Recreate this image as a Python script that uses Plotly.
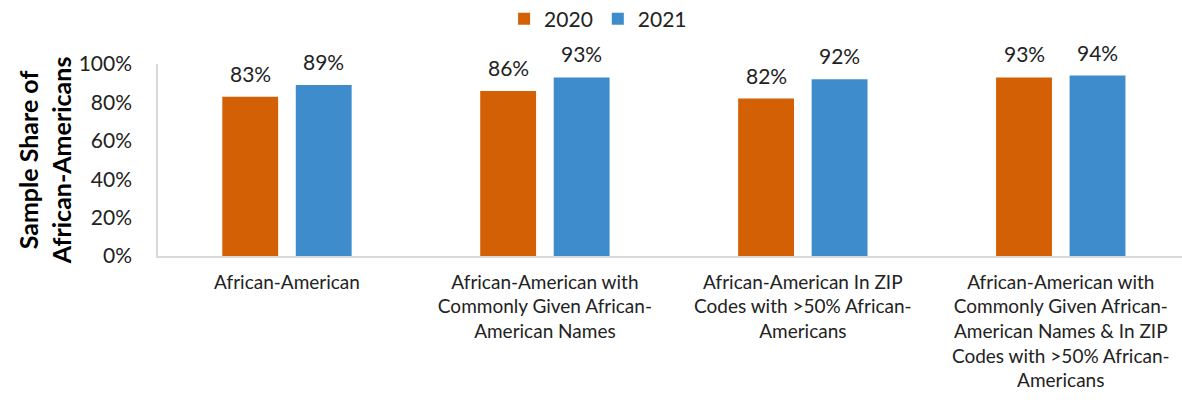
import plotly.graph_objects as go

categories = [
    "African-American",
    "African-American with<br>Commonly Given African-<br>American Names",
    "African-American In ZIP<br>Codes with >50% African-<br>Americans",
    "African-American with<br>Commonly Given African-<br>American Names & In ZIP<br>Codes with >50% African-<br>Americans",
]
values_2020 = [0.83, 0.86, 0.82, 0.93]
values_2021 = [0.89, 0.93, 0.92, 0.94]
series_names = ["2020", "2021"]
colors = ["#D46005", "#3E8CCB"]

FONT = "Lato, 'Open Sans', sans-serif"
xs = list(range(len(categories)))

fig = go.Figure()
for name, vals, col in zip(series_names, [values_2020, values_2021], colors):
    fig.add_trace(go.Bar(x=xs, y=vals, name=name, marker=dict(color=col, line=dict(width=0))))

slot = 0.285
for k, vals in enumerate([values_2020, values_2021]):
    off = (k - 0.5) * slot
    for i, v in enumerate(vals):
        fig.add_annotation(x=i + off, y=v, text=f"{round(v*100)}%", showarrow=False,
                           yanchor="bottom", yshift=9,
                           font=dict(family=FONT, size=21, color="#222"))

fig.update_layout(
    width=1182, height=404,
    margin=dict(l=158, r=0, t=64, b=148),
    paper_bgcolor="white", plot_bgcolor="white",
    barmode="group", bargap=0.43, bargroupgap=0.24,
    font=dict(family=FONT, color="#222"),
    showlegend=True,
    legend=dict(orientation="h", xref="container", yref="container",
                x=0.506, xanchor="center", y=1 - 19/404, yanchor="middle",
                font=dict(size=21, color="#222"), itemwidth=30, traceorder="normal"),
    xaxis=dict(tickmode="array", tickvals=xs, ticktext=categories, automargin=False,
               range=[-0.5, 3.47], showline=True, linecolor="#d9d9d9", linewidth=1.5,
               showgrid=False, zeroline=False, tickangle=0, ticklabelstandoff=8,
               tickfont=dict(size=19, color="#222"), ticks=""),
    yaxis=dict(range=[0, 1], dtick=0.2, tickformat=".0%", showgrid=False, zeroline=False,
               showline=True, linecolor="#d9d9d9", linewidth=1.5, ticks="", automargin=False,
               ticklabelstandoff=20,
               tickfont=dict(size=21, color="#222"),
               title=dict(text="<b>Sample Share of<br>African-Americans</b>", standoff=0,
                          font=dict(size=25, color="#000"))),
)

fig.write_html("out.html", config={"displayModeBar": False})
with open("out.html", "r", encoding="utf-8") as f:
    html = f.read()
html = html.replace("<body>", '<body style="margin:0;padding:0;overflow:hidden">', 1)
with open("out.html", "w", encoding="utf-8") as f:
    f.write(html)
